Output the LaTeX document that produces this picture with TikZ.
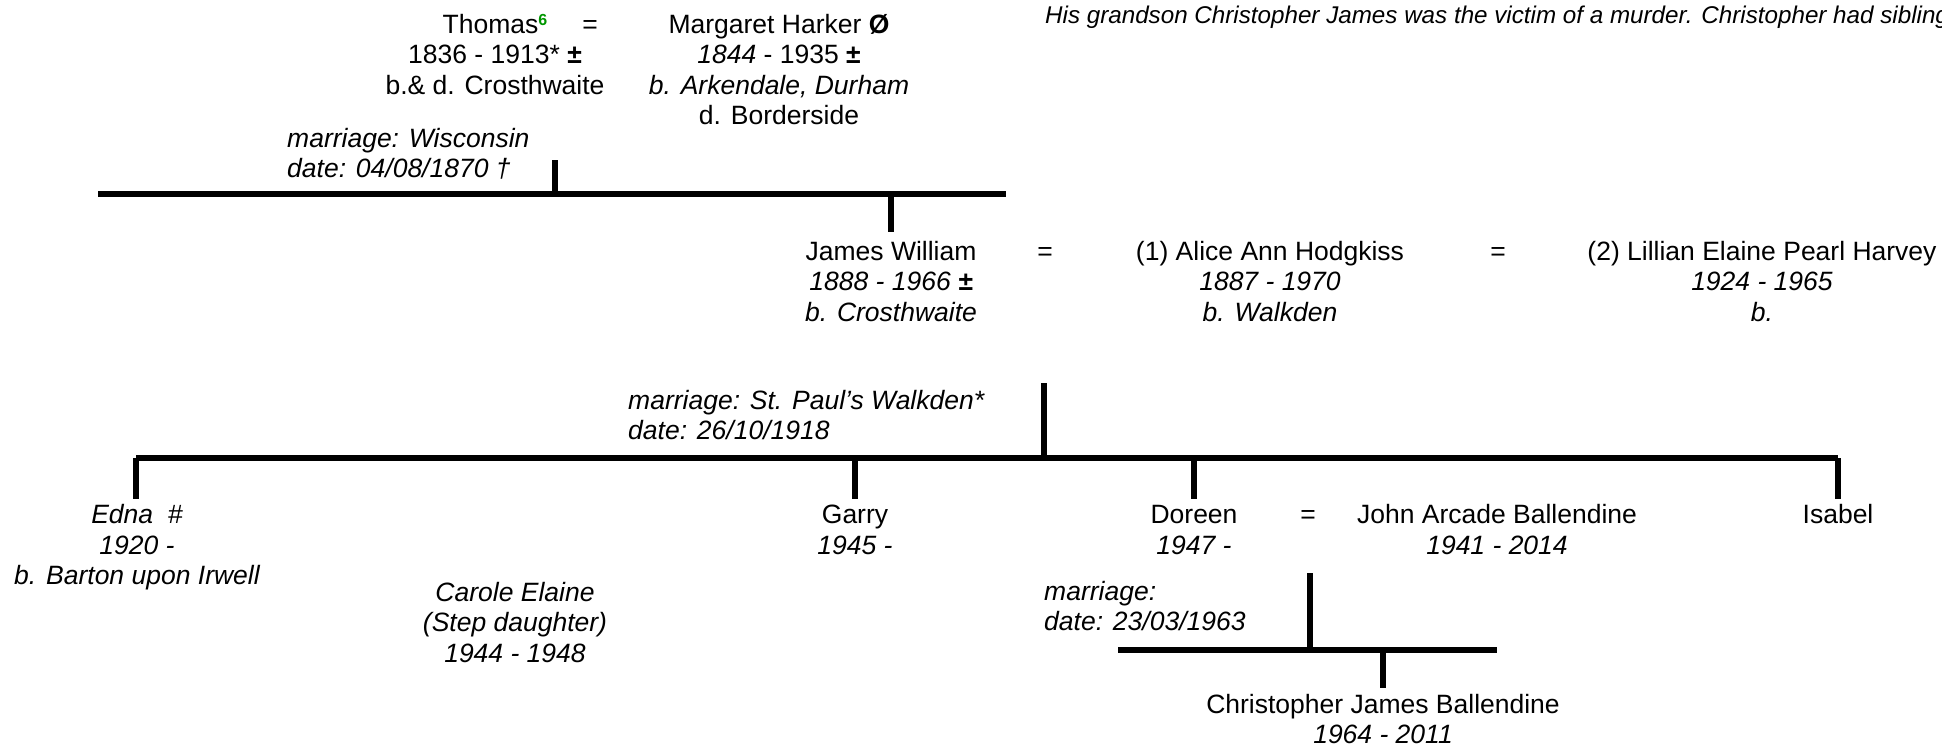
\documentclass[tikz,border=0pt]{standalone}
\usepackage{fontspec}
\setmainfont{Liberation Sans}
\definecolor{supgreen}{RGB}{0,150,0}
\newcommand\gsup[1]{\raisebox{8pt}{\fontsize{16}{16}\selectfont\bfseries\color{supgreen}#1}}
% multi-line nodes are placed by the baseline of their LAST line (anchor=base)
\tikzset{
  person/.style={anchor=base, align=center, inner sep=0pt, font=\fontsize{26.5}{30.5}\selectfont},
  iperson/.style={person, font=\fontsize{26.5}{30.5}\selectfont\itshape},
  note/.style={anchor=base west, align=left, inner sep=0pt, font=\fontsize{26.5}{30.5}\selectfont\itshape},
  eqsign/.style={anchor=base, inner sep=0pt, font=\fontsize{26.5}{30.5}\selectfont},
  header/.style={anchor=base west, inner sep=0pt, font=\fontsize{24.2}{28}\selectfont\itshape},
  bar/.style={line width=5.5pt, black},
}
\begin{document}
\begin{tikzpicture}[x=1pt, y=-1pt]
\useasboundingbox (0,0) rectangle (1942,745);

% header note
\node[header] (hdr) at (1045,23) {His grandson Christopher James was the victim of a murder. Christopher had siblings};

% generation 1
\node[person] (thomas) at (495,94) {Thomas\gsup{6}\\1836 - 1913* \textbf{±}\\b.\& d. Crosthwaite};
\node[eqsign] (eqA) at (590,33) {=};
\node[person] (margaret) at (779,124.5) {Margaret Harker \textbf{Ø}\\\textit{1844} - 1935 \textbf{±}\\\textit{b. Arkendale, Durham}\\d. Borderside};
\node[note] (marrA) at (287,177.5) {marriage: Wisconsin\\date: 04/08/1870 †};

\coordinate (barA-w) at (98,194);
\coordinate (barA-e) at (1006,194);
\coordinate (stemA) at (555,160);
\coordinate (dropA) at (891,232);
\draw[bar] (barA-w) -- (barA-e);
\draw[bar] (stemA) -- (stemA |- barA-w);
\draw[bar] (dropA |- barA-w) -- (dropA);

% generation 2
\node[person] (james) at (891,321) {James William\\\textit{1888 - 1966 \textbf{±}}\\\textit{b. Crosthwaite}};
\node[eqsign] (eqB1) at (1045,260) {=};
\node[person] (alice) at (1270,321) {(1) Alice Ann Hodgkiss\\\textit{1887 - 1970}\\\textit{b. Walkden}};
\node[eqsign] (eqB2) at (1498,260) {=};
\node[person] (lillian) at (1762,321) {(2) Lillian Elaine Pearl Harvey\\\textit{1924 - 1965}\\\textit{b.}};
\node[note] (marrB) at (628,439.5) {marriage: St. Paul’s Walkden*\\date: 26/10/1918};

\coordinate (stemB) at (1044,383);
\coordinate (barB-w) at (136,458);
\coordinate (barB-e) at (1838,458);
\coordinate (dropEdna) at (136,499);
\coordinate (dropGarry) at (855,499);
\coordinate (dropDoreen) at (1194,499);
\coordinate (dropIsabel) at (1838,499);
\draw[bar] (stemB) -- (stemB |- barB-w);
\draw[bar] (barB-w) -- (barB-e);
\draw[bar] (dropEdna |- barB-w) -- (dropEdna);
\draw[bar] (dropGarry |- barB-w) -- (dropGarry);
\draw[bar] (dropDoreen |- barB-w) -- (dropDoreen);
\draw[bar] (dropIsabel |- barB-w) -- (dropIsabel);

% generation 3
\node[iperson] (edna) at (137,584.5) {Edna\ \ \#\\1920 -\\b. Barton upon Irwell};
\node[person] (garry) at (855,554) {Garry\\\textit{1945 -}};
\node[person] (doreen) at (1194,554) {Doreen\\\textit{1947 -}};
\node[eqsign] (eqD) at (1308,523.5) {=};
\node[person] (john) at (1497,554) {John Arcade Ballendine\\\textit{1941 - 2014}};
\node[person] (isabel) at (1838,523.5) {Isabel};
\node[iperson] (carole) at (515,662) {Carole Elaine\\(Step daughter)\\1944 - 1948};
\node[note] (marrD) at (1044,630.5) {marriage:\\date: 23/03/1963};

\coordinate (stemD) at (1310,573);
\coordinate (barD-w) at (1118,650);
\coordinate (barD-e) at (1497,650);
\coordinate (dropChris) at (1383,688);
\draw[bar] (stemD) -- (stemD |- barD-w);
\draw[bar] (barD-w) -- (barD-e);
\draw[bar] (dropChris |- barD-w) -- (dropChris);

% generation 4
\node[person] (chris) at (1383,743.5) {Christopher James Ballendine\\\textit{1964 - 2011}};
\end{tikzpicture}
\end{document}
